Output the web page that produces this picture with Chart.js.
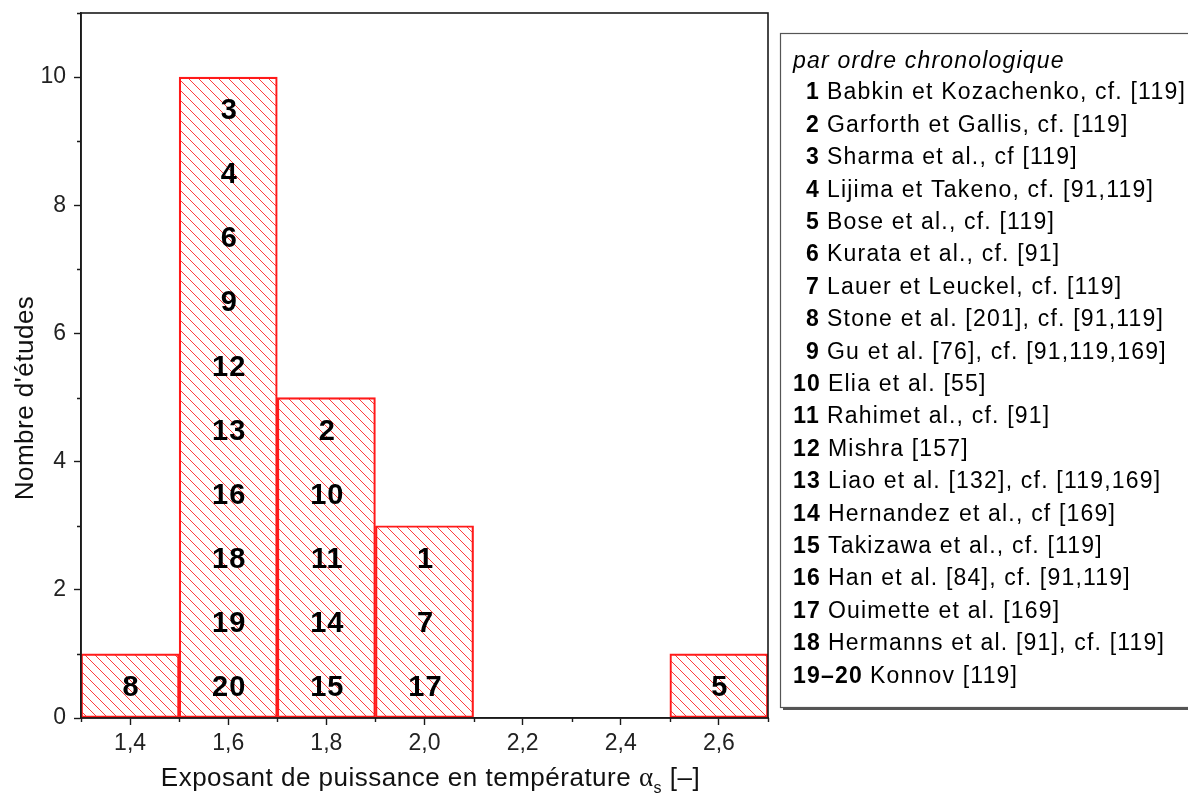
<!DOCTYPE html>
<html>
<head>
<meta charset="utf-8">
<script src="https://cdn.jsdelivr.net/npm/chart.js@4/dist/chart.umd.min.js"></script>
<style>
  html, body { margin: 0; padding: 0; background: #ffffff; }
  canvas { display: block; }
</style>
</head>
<body>
<canvas id="chart" width="1188" height="793"></canvas>
<script>
// Histogram bins (centre of each 0.2-wide class) and number of studies in each
const binCenters = [1.4, 1.6, 1.8, 2.0, 2.6];
const studyCounts = [1, 10, 5, 3, 1];
// Study numbers stacked inside each bar, listed from bottom to top
const binStudies = [
  ["8"],
  ["20", "19", "18", "16", "13", "12", "9", "6", "4", "3"],
  ["15", "14", "11", "10", "2"],
  ["17", "7", "1"],
  ["5"]
];

// Axes
const xTickValues = [1.4, 1.6, 1.8, 2.0, 2.2, 2.4, 2.6];
const xMinorTicks = [1.3, 1.5, 1.7, 1.9, 2.1, 2.3, 2.5, 2.7];
const yTickValues = [0, 2, 4, 6, 8, 10];
const yMinorTicks = [1, 3, 5, 7, 9, 11];

// Reference list
const legendTitle = "par ordre chronologique";
const refNumbers = ["1", "2", "3", "4", "5", "6", "7", "8", "9", "10",
  "11", "12", "13", "14", "15", "16", "17", "18", "19\u201320"];
const refNames = [
  "Babkin et Kozachenko, cf. [119]",
  "Garforth et Gallis, cf. [119]",
  "Sharma et al., cf [119]",
  "Lijima et Takeno, cf. [91,119]",
  "Bose et al., cf. [119]",
  "Kurata et al., cf. [91]",
  "Lauer et Leuckel, cf. [119]",
  "Stone et al. [201], cf. [91,119]",
  "Gu et al. [76], cf. [91,119,169]",
  "Elia et al. [55]",
  "Rahimet al., cf. [91]",
  "Mishra [157]",
  "Liao et al. [132], cf. [119,169]",
  "Hernandez et al., cf [169]",
  "Takizawa et al., cf. [119]",
  "Han et al. [84], cf. [91,119]",
  "Ouimette et al. [169]",
  "Hermanns et al. [91], cf. [119]",
  "Konnov [119]"
];

const FONT = '"Liberation Sans", Arial, sans-serif';
const RED = '#ff1a1a';

// Diagonal hatch fill for the bars
function makeHatch() {
  const p = document.createElement('canvas');
  const s = 10;
  p.width = s; p.height = s;
  const g = p.getContext('2d');
  g.strokeStyle = 'rgba(255,25,25,0.85)';
  g.lineWidth = 1;
  g.beginPath();
  g.moveTo(0, 0); g.lineTo(s, s);
  g.moveTo(-s, 0); g.lineTo(s, 2 * s);
  g.moveTo(0, -s); g.lineTo(2 * s, s);
  g.stroke();
  return g.createPattern(p, 'repeat');
}

const fmt = v => v.toFixed(1).replace('.', ',');

const decor = {
  id: 'decor',
  afterDatasetsDraw(chart) {
    const ctx = chart.ctx;
    const xs = chart.scales.x, ys = chart.scales.y;
    ctx.save();
    ctx.font = 'bold 29px ' + FONT;
    ctx.letterSpacing = '1px';
    ctx.fillStyle = '#000';
    ctx.textAlign = 'center';
    ctx.textBaseline = 'middle';
    binStudies.forEach((ids, i) => {
      const px = xs.getPixelForValue(binCenters[i]);
      ids.forEach((id, k) => {
        ctx.fillText(id, px + 1, ys.getPixelForValue(k + 0.5) + 2);
      });
    });
    ctx.restore();
  },
  afterDraw(chart) {
    const ctx = chart.ctx;
    const a = chart.chartArea;
    const xs = chart.scales.x, ys = chart.scales.y;
    ctx.save();
    // frame
    ctx.strokeStyle = '#1a1a1a';
    ctx.lineWidth = 1.6;
    ctx.strokeRect(a.left, a.top, a.right - a.left, a.bottom - a.top);
    // minor ticks
    ctx.lineWidth = 1.4;
    ctx.beginPath();
    xMinorTicks.forEach(v => {
      const px = Math.round(xs.getPixelForValue(v)) + 0.5;
      ctx.moveTo(px, a.bottom); ctx.lineTo(px, a.bottom + 4);
    });
    yMinorTicks.forEach(v => {
      const py = Math.round(ys.getPixelForValue(v)) + 0.5;
      ctx.moveTo(a.left, py); ctx.lineTo(a.left - 4, py);
    });
    ctx.stroke();

    // axis titles
    ctx.fillStyle = '#111';
    ctx.letterSpacing = '0.5px';
    const mainTxt = 'Exposant de puissance en temp\u00e9rature ';
    const tail = ' [\u2013]';
    const alphaFont = '27px "Liberation Serif", serif';
    ctx.font = '26px ' + FONT;
    const w1 = ctx.measureText(mainTxt).width;
    const w3 = ctx.measureText(tail).width;
    ctx.font = alphaFont;
    const w2 = ctx.measureText('\u03b1').width;
    ctx.font = '16px ' + FONT;
    const ws = ctx.measureText('s').width;
    const total = w1 + w2 + ws + w3;
    const x0 = (a.left + a.right) / 2 - total / 2 + 6;
    const base = 786;
    ctx.textAlign = 'left';
    ctx.textBaseline = 'alphabetic';
    ctx.font = '26px ' + FONT;
    ctx.fillText(mainTxt, x0, base);
    ctx.font = alphaFont;
    ctx.fillText('\u03b1', x0 + w1, base);
    ctx.font = '16px ' + FONT;
    ctx.fillText('s', x0 + w1 + w2, base + 7);
    ctx.font = '26px ' + FONT;
    ctx.fillText(tail, x0 + w1 + w2 + ws, base);

    ctx.save();
    ctx.translate(33, 398);
    ctx.rotate(-Math.PI / 2);
    ctx.textAlign = 'center';
    ctx.textBaseline = 'alphabetic';
    ctx.font = '26px ' + FONT;
    ctx.fillText("Nombre d'\u00e9tudes", 0, 0);
    ctx.restore();

    // reference list box
    const bx = 780, by = 33, bw = 440, bh = 674;
    ctx.fillStyle = '#555';
    ctx.fillRect(bx + 3, by + 3, bw, bh);
    ctx.fillStyle = '#fff';
    ctx.fillRect(bx, by, bw, bh);
    ctx.strokeStyle = '#555';
    ctx.lineWidth = 1.2;
    ctx.strokeRect(bx + 0.5, by + 0.5, bw, bh);

    const lineH = 32.4;
    const firstY = 93;
    ctx.fillStyle = '#000';
    ctx.textBaseline = 'middle';
    ctx.letterSpacing = '1.2px';
    ctx.font = 'italic 23px ' + FONT;
    ctx.fillText(legendTitle, 793, firstY - lineH + 1);
    refNumbers.forEach((num, i) => {
      const y = firstY + i * lineH;
      ctx.font = 'bold 23px ' + FONT;
      const wn = ctx.measureText(num).width;
      const right = Math.max(820, 793 + wn);
      ctx.fillText(num, right - wn, y);
      ctx.font = '23px ' + FONT;
      ctx.fillText(refNames[i], right + 7, y);
    });
    ctx.restore();
  }
};

const ctx = document.getElementById('chart').getContext('2d');
new Chart(ctx, {
  type: 'bar',
  data: {
    datasets: [{
      data: binCenters.map((x, i) => ({ x: x, y: studyCounts[i] })),
      backgroundColor: makeHatch(),
      borderColor: RED,
      borderWidth: 1.5,
      borderSkipped: false,
      barPercentage: 1,
      categoryPercentage: 1
    }]
  },
  options: {
    responsive: false,
    animation: false,
    devicePixelRatio: 1,
    layout: { padding: { left: 0, top: 13, right: 420, bottom: 0 } },
    plugins: { legend: { display: false }, tooltip: { enabled: false } },
    scales: {
      x: {
        type: 'linear',
        min: 1.3,
        max: 2.7,
        offset: false,
        afterBuildTicks: s => { s.ticks = xTickValues.map(v => ({ value: v })); },
        afterFit: s => { s.height = 75; s.paddingLeft = 0; s.paddingRight = 0; },
        ticks: {
          callback: v => fmt(v),
          font: { family: FONT, size: 23 },
          color: '#222',
          padding: 5,
          maxRotation: 0,
          autoSkip: false
        },
        grid: {
          offset: false,
          drawOnChartArea: false,
          drawTicks: true,
          tickLength: 7,
          tickWidth: 1.4,
          tickColor: '#1a1a1a'
        },
        border: { display: true, color: '#1a1a1a', width: 1.6 }
      },
      y: {
        min: 0,
        max: 11,
        afterBuildTicks: s => { s.ticks = yTickValues.map(v => ({ value: v })); },
        afterFit: s => { s.width = 81; s.paddingTop = 0; s.paddingBottom = 0; },
        ticks: {
          font: { family: FONT, size: 23 },
          color: '#222',
          padding: 8
        },
        grid: {
          drawOnChartArea: false,
          drawTicks: true,
          tickLength: 7,
          tickWidth: 1.4,
          tickColor: '#1a1a1a'
        },
        border: { display: true, color: '#1a1a1a', width: 1.6 }
      }
    }
  },
  plugins: [decor]
});
</script>
</body>
</html>
